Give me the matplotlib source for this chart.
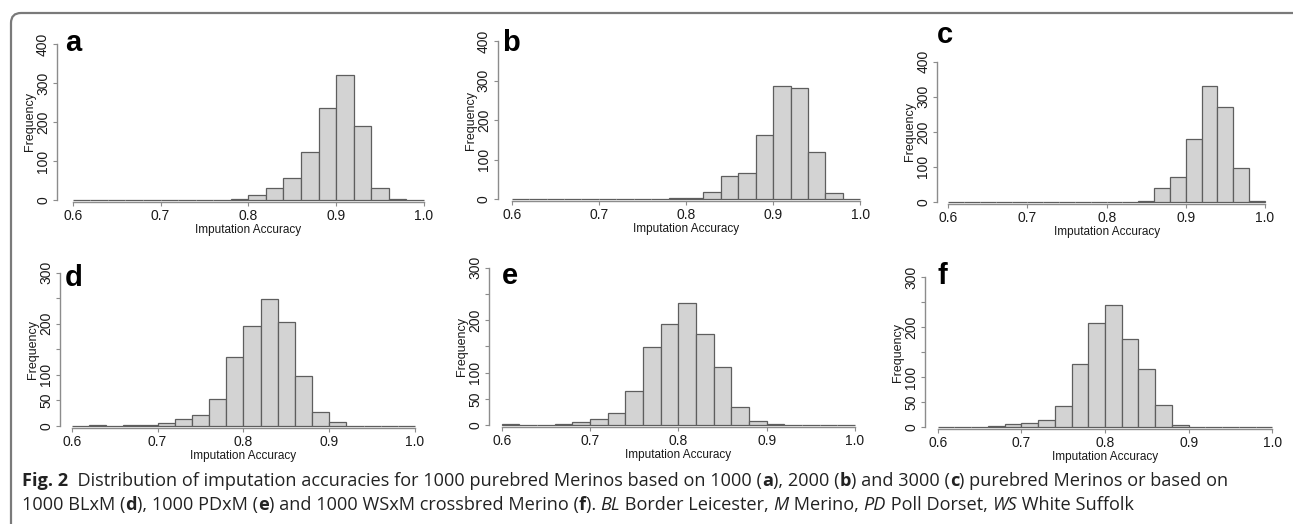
import numpy as np
import matplotlib
matplotlib.use("Agg")
import matplotlib.pyplot as plt
from matplotlib.patches import FancyBboxPatch
from matplotlib.transforms import IdentityTransform

# histogram bins: 0.60 .. 1.00 in steps of 0.02
bin_left = np.round(np.arange(0.60, 0.99, 0.02), 2)

counts_a = [0, 1, 0, 0, 0, 0, 0, 1, 1, 2, 13, 32, 56, 122, 235, 320, 189, 32, 3, 0]
counts_b = [0, 1, 0, 0, 0, 0, 0, 1, 1, 2, 2, 17, 57, 65, 162, 286, 280, 118, 15, 0]
counts_c = [0, 0, 1, 0, 0, 0, 0, 0, 0, 0, 0, 1, 3, 41, 71, 180, 330, 271, 97, 4]
counts_d = [0, 1, 0, 1, 1, 6, 13, 21, 52, 135, 196, 248, 203, 97, 26, 8, 0, 0, 0, 0]
counts_e = [1, 0, 0, 2, 5, 11, 22, 65, 148, 192, 233, 173, 111, 35, 7, 1, 0, 0, 0, 0]
counts_f = [0, 1, 0, 2, 7, 9, 15, 42, 126, 208, 244, 176, 116, 45, 4, 0, 0, 0, 0, 0]

panel_letters = ["a", "b", "c", "d", "e", "f"]
xticks = [0.6, 0.7, 0.8, 0.9, 1.0]
xticklabels = ["0.6", "0.7", "0.8", "0.9", "1.0"]
yticks_top = [0, 100, 200, 300, 400]
yticklabels_top = ["0", "100", "200", "300", "400"]
yticks_bot = [0, 50, 100, 150, 200, 250, 300]
yticklabels_bot = ["0", "50", "100", "", "200", "", "300"]

W, H = 1293, 524
fig = plt.figure(figsize=(W / 100, H / 100), dpi=100)
fig.patch.set_facecolor("white")

# pixel layout per panel: x of 0.6, x of 1.0, y of 0, y of top tick, x of y axis, letter pos
layout = [
    dict(x0=72.7, x1=424.0, y0=200.0, yt=44.0, yax=57.0, lx=65, ly=51),
    dict(x0=511.7, x1=860.2, y0=199.0, yt=41.0, yax=497.7, lx=502, ly=51),
    dict(x0=948.3, x1=1265.0, y0=202.0, yt=61.7, yax=937.3, lx=937, ly=43),
    dict(x0=71.7, x1=415.0, y0=425.7, yt=272.7, yax=60.0, lx=65, ly=286),
    dict(x0=501.7, x1=855.0, y0=425.0, yt=267.7, yax=489.0, lx=502, ly=284),
    dict(x0=937.7, x1=1272.3, y0=427.0, yt=277.0, yax=925.0, lx=937, ly=284),
]
all_counts = [counts_a, counts_b, counts_c, counts_d, counts_e, counts_f]

axis_col = "#8c8c8c"
text_col = "#1a1a1a"
ax_font = "Liberation Sans"

for i, (counts, L) in enumerate(zip(all_counts, layout)):
    top_row = i < 3
    ymax = 400 if top_row else 300
    yt = yticks_top if top_row else yticks_bot
    ytl = yticklabels_top if top_row else yticklabels_bot

    left_px = L["yax"]
    right_px = L["x1"] + 4
    bot_px = L["y0"] + 2
    top_px = L["yt"]
    ax = fig.add_axes([left_px / W, 1 - bot_px / H,
                       (right_px - left_px) / W, (bot_px - top_px) / H])
    ppu = (L["x1"] - L["x0"]) / 0.4
    ppy = (L["y0"] - L["yt"]) / ymax
    ax.set_xlim(0.6 - (L["x0"] - left_px) / ppu, 1.0 + 4 / ppu)
    ax.set_ylim(-2 / ppy, ymax)
    ax.patch.set_alpha(0)

    ax.bar(bin_left, counts, width=0.02, align="edge", color="#d3d3d3",
           edgecolor="#5e5e5e", linewidth=0.9)

    for s in ["top", "right"]:
        ax.spines[s].set_visible(False)
    ax.spines["left"].set_bounds(0, ymax)
    ax.spines["bottom"].set_bounds(0.6, 1.0)
    for s in ["left", "bottom"]:
        ax.spines[s].set_color(axis_col)
        ax.spines[s].set_linewidth(1.0)

    ax.set_xticks(xticks)
    ax.set_xticklabels(xticklabels, fontfamily=ax_font, fontsize=10, color=text_col)
    ax.set_yticks(yt)
    ax.set_yticklabels(ytl, fontfamily=ax_font, fontsize=10, color=text_col,
                       rotation=90, va="center")
    ax.tick_params(axis="both", length=3, width=0.8, color=axis_col, pad=2.0)

    ax.set_xlabel("Imputation Accuracy", fontfamily=ax_font, fontsize=8.5,
                  color=text_col)
    ax.xaxis.set_label_coords(0.8, -28 / (bot_px - top_px),
                              transform=ax.get_xaxis_transform())
    ax.xaxis.label.set_va("center")
    ax.set_ylabel("Frequency", fontfamily=ax_font, fontsize=9, color=text_col)
    ax.yaxis.set_label_coords(-27 / (right_px - left_px), ymax / 2,
                              transform=ax.get_yaxis_transform())
    ax.yaxis.label.set_va("center")
    ax.yaxis.label.set_ha("center")

    fig.text(L["lx"] / W, 1 - L["ly"] / H, panel_letters[i], fontfamily=ax_font,
             fontweight="bold", fontsize=21, color="black", va="baseline")

# rounded frame around figure
frame = FancyBboxPatch((11, -30), 1320, H - 13 + 30,
                       boxstyle="round,pad=0,rounding_size=10",
                       transform=IdentityTransform(), fill=False,
                       edgecolor="#7a7a7a", linewidth=1.6)
fig.add_artist(frame)

# caption with mixed bold / italic pieces
cap_font = "Open Sans"
cap_size = 13.1
line1 = [("Fig. 2", "bold", "normal"),
         ("  Distribution of imputation accuracies for 1000 purebred Merinos based on 1000 (", "normal", "normal"),
         ("a", "bold", "normal"), ("), 2000 (", "normal", "normal"),
         ("b", "bold", "normal"), (") and 3000 (", "normal", "normal"),
         ("c", "bold", "normal"), (") purebred Merinos or based on", "normal", "normal")]
line2 = [("1000 BLxM (", "normal", "normal"), ("d", "bold", "normal"),
         ("), 1000 PDxM (", "normal", "normal"), ("e", "bold", "normal"),
         (") and 1000 WSxM crossbred Merino (", "normal", "normal"),
         ("f", "bold", "normal"), ("). ", "normal", "normal"),
         ("BL", "normal", "italic"), (" Border Leicester, ", "normal", "normal"),
         ("M", "normal", "italic"), (" Merino, ", "normal", "normal"),
         ("PD", "normal", "italic"), (" Poll Dorset, ", "normal", "normal"),
         ("WS", "normal", "italic"), (" White Suffolk", "normal", "normal")]

renderer = fig.canvas.get_renderer()


def text_width(s, weight, style):
    t1 = fig.text(0, 0, "|" + s + "|", fontfamily=cap_font, fontsize=cap_size,
                  fontweight=weight, fontstyle=style)
    t2 = fig.text(0, 0, "||", fontfamily=cap_font, fontsize=cap_size,
                  fontweight=weight, fontstyle=style)
    w = t1.get_window_extent(renderer).width - t2.get_window_extent(renderer).width
    t1.remove()
    t2.remove()
    return w


for line, ypix in [(line1, 479), (line2, 503)]:
    x = 22.0
    for s, weight, style in line:
        fig.text(x / W, 1 - ypix / H, s, fontfamily=cap_font, fontsize=cap_size,
                 fontweight=weight, fontstyle=style, color="#222222",
                 va="center_baseline")
        x += text_width(s, weight, style)

fig.savefig("out.png", dpi=100)
